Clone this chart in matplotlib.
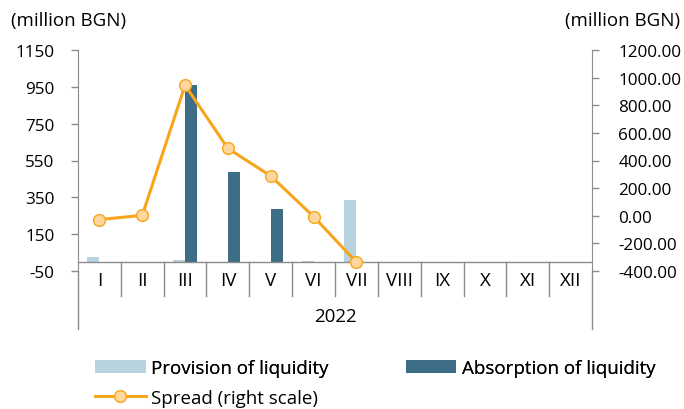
import matplotlib
matplotlib.use("Agg")
import matplotlib.pyplot as plt
from matplotlib.lines import Line2D
import numpy as np

categories = ["I", "II", "III", "IV", "V", "VI", "VII", "VIII", "IX", "X", "XI", "XII"]
provision = [27, 0, 12, 0, 0, 5, 335, np.nan, np.nan, np.nan, np.nan, np.nan]
absorption = [0, 0, 958, 487, 288, 0, 0, np.nan, np.nan, np.nan, np.nan, np.nan]
spread = [-28, 3, 945, 487, 288, -6, -336]
year_label = "2022"
left_ticks = list(range(-50, 1151, 200))
right_ticks = list(range(-400, 1201, 200))

plt.rcParams['font.family'] = ['Open Sans', 'DejaVu Sans']
FS = 13.5
TFS = 12.3
AXC = "#8c8c8c"
C_PROV = "#b7d3e0"
C_ABS = "#3e6e87"
C_LINE = "#f7a51c"
C_MFACE = "#fdd79b"

fig = plt.figure(figsize=(6.84, 4.10), dpi=100)
W, H = 684, 410
x0, x1 = 78, 592
ytop, ybot = 51, 272
ax = fig.add_axes([x0 / W, 1 - ybot / H, (x1 - x0) / W, (ybot - ytop) / H])
ax2 = ax.twinx()

n = len(categories)
x = np.arange(n)
bw = 0.28
ax.bar(x - bw / 2, provision, width=bw, color=C_PROV, label="Provision of liquidity", zorder=2)
ax.bar(x + bw / 2, absorption, width=bw, color=C_ABS, label="Absorption of liquidity", zorder=2)
ax.set_xlim(-0.5, n - 0.5)
ax.set_ylim(-50, 1150)
ax.set_yticks(left_ticks)
ax.set_yticklabels([str(v) for v in left_ticks], fontsize=TFS)
ax.axhline(0, color=AXC, lw=1, zorder=3)
ax.set_xticks([])

xs = np.arange(len(spread))
ax2.plot(xs, spread, color=C_LINE, lw=2.2, marker="o", markersize=8.5,
         markerfacecolor=C_MFACE, markeredgecolor=C_LINE, markeredgewidth=1,
         label="Spread (right scale)", zorder=5)
ax2.set_ylim(-400, 1200)
ax2.set_yticks(right_ticks)
ax2.set_yticklabels([f"{v:.2f}" for v in right_ticks], fontsize=TFS)
ax2.set_zorder(ax.get_zorder() + 1)
ax2.patch.set_visible(False)

for a in (ax, ax2):
    for s in ("top", "bottom"):
        a.spines[s].set_visible(False)
    a.tick_params(axis="y", colors=AXC, labelcolor="black", length=5, width=1, pad=12)
ax.spines["right"].set_visible(False)
ax.spines["left"].set_color(AXC)
ax2.spines["left"].set_visible(False)
ax2.spines["right"].set_color(AXC)
ax2.tick_params(axis="y", pad=14)

def fy(py):
    return 1 - py / H

for px in (x0, x1):
    fig.add_artist(Line2D([px / W, px / W], [fy(272), fy(330)], color=AXC, lw=1))
for i in range(1, n):
    px = x0 + (x1 - x0) * i / n
    fig.add_artist(Line2D([px / W, px / W], [fy(263), fy(297)], color=AXC, lw=1))
for i, c in enumerate(categories):
    px = x0 + (x1 - x0) * (i + 0.5) / n
    fig.text(px / W, fy(281), c, ha="center", va="center", fontsize=FS)
fig.text((x0 + x1) / 2 / W, fy(317), year_label, ha="center", va="center", fontsize=FS)

fig.text(11 / W, fy(21), "(million BGN)", ha="left", va="center", fontsize=FS)
fig.text(680 / W, fy(21), "(million BGN)", ha="right", va="center", fontsize=FS)

h1, l1 = ax.get_legend_handles_labels()
h2, l2 = ax2.get_legend_handles_labels()
leg1 = fig.legend([h1[0], h1[1]], [l1[0], l1[1]], ncol=2, loc="center left",
                  bbox_to_anchor=(95 / W, fy(369)), frameon=False, fontsize=FS,
                  handlelength=2.7, handleheight=0.7, columnspacing=4.1, handletextpad=0.3,
                  borderpad=0, borderaxespad=0)
leg2 = fig.legend([h2[0]], [l2[0]], loc="center left",
                  bbox_to_anchor=(95 / W, fy(399)), frameon=False, fontsize=FS,
                  handlelength=2.7, handletextpad=0.3, borderpad=0, borderaxespad=0)
fig.add_artist(leg1)

fig.savefig("out.png", dpi=100)
